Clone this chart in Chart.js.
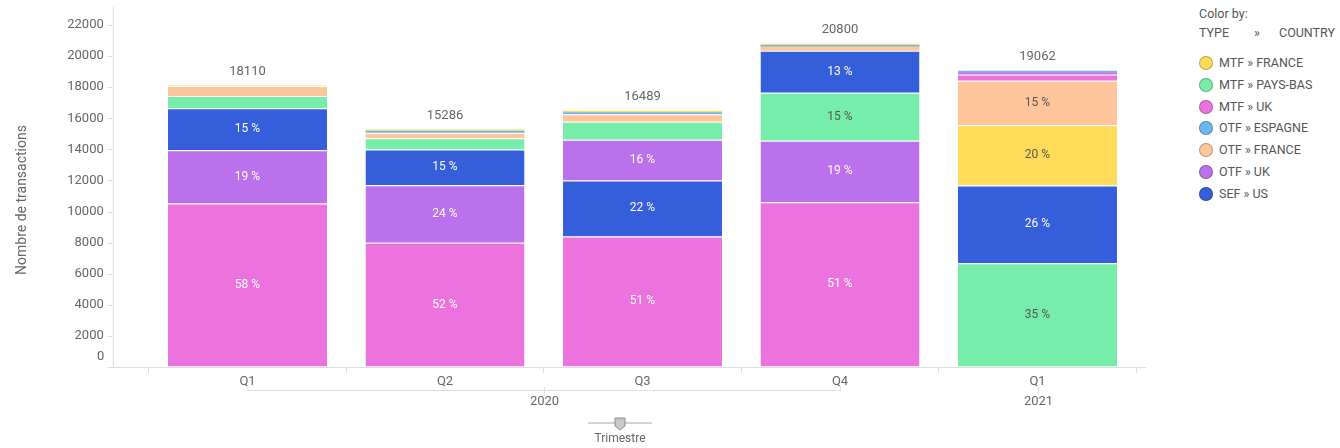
<!DOCTYPE html>
<html>
<head>
<meta charset="utf-8">
<script src="https://cdn.jsdelivr.net/npm/chart.js@4.4.1/dist/chart.umd.min.js"></script>
<style>
  body { margin: 0; background: #fff; font-family: Roboto, sans-serif; }
  #wrap { position: absolute; left: 0; top: 0; width: 1190px; height: 448px; }
  #legend { position: absolute; left: 1199px; top: 0; width: 141px; color: #555; font-size: 12.5px; }
  #legend .head { position: absolute; left: 0; white-space: nowrap; }
  #legend .item { position: absolute; left: 0; height: 16px; line-height: 16px; white-space: nowrap; }
  #legend .dot { position: absolute; left: 0; top: 1px; width: 12px; height: 12px; border-radius: 50%; border: 1px solid rgba(0,0,0,0.25); }
  #legend .txt { position: absolute; left: 20px; top: 0; }
</style>
</head>
<body>
<div id="wrap"><canvas id="chart"></canvas></div>
<div id="legend"></div>
<script>
const quarters = ['Q1', 'Q2', 'Q3', 'Q4', 'Q1']
const years = ['2020', '2020', '2020', '2020', '2021']
const yTicks = [0, 2000, 4000, 6000, 8000, 10000, 12000, 14000, 16000, 18000, 20000, 22000]

const seriesNames = ['MTF » FRANCE', 'MTF » PAYS-BAS', 'MTF » UK', 'OTF » ESPAGNE', 'OTF » FRANCE', 'OTF » UK', 'SEF » US']
const seriesColors = ['#fedc5a', '#76eda8', '#ec73dd', '#6db7ee', '#ffc59b', '#bb70ec', '#355fda']
const labelColors = ['#555', '#555', '#fff', '#fff', '#555', '#fff', '#fff']

const mtfFrance = [25, 86, 99, 90, 3880]
const mtfPaysBas = [790, 710, 1160, 3080, 6680]
const mtfUk = [10520, 8000, 8400, 10600, 410]
const otfEspagne = [0, 130, 130, 110, 92]
const otfFrance = [645, 360, 480, 260, 2850]
const otfUk = [3420, 3700, 2620, 3960, 150]
const sefUs = [2710, 2300, 3600, 2700, 5000]

const series = [mtfFrance, mtfPaysBas, mtfUk, otfEspagne, otfFrance, otfUk, sefUs]
const totals = quarters.map((q, i) => series.reduce((s, arr) => s + arr[i], 0))

// each quarter stacks its series largest first, so build one dataset per rank
const ranked = quarters.map((q, i) =>
    series.map((arr, s) => ({ s: s, v: arr[i] })).sort((a, b) => b.v - a.v))
const datasets = series.map((_, k) => ({
    data: ranked.map(r => r[k].v),
    seriesIdx: ranked.map(r => r[k].s),
    backgroundColor: ranked.map(r => seriesColors[r[k].s]),
    borderColor: '#fff',
    borderWidth: ctx => (ctx.raw > 300 ? { top: 1, left: 0, right: 0, bottom: 0 } : 0),
    borderSkipped: false,
    barPercentage: 0.805,
    categoryPercentage: 1
}))

// legend panel
const legend = document.getElementById('legend')
legend.innerHTML =
    '<div class="head" style="top:6px">Color by:</div>' +
    '<div class="head" style="top:25px">TYPE</div>' +
    '<div class="head" style="top:25px;left:55px">»</div>' +
    '<div class="head" style="top:25px;left:80px">COUNTRY</div>' +
    seriesNames.map((n, i) =>
        '<div class="item" style="top:' + (55 + i * 21.8) + 'px"><span class="dot" style="background:' +
        seriesColors[i] + '"></span><span class="txt">' + n + '</span></div>').join('')

const gridColor = '#dcdee5'
const textColor = '#666'

const decor = {
    id: 'decor',
    beforeDatasetsDraw(chart) {
        const c = chart.ctx
        const a = chart.chartArea
        const y = chart.scales.y
        const axisX = a.left - 35.5
        c.save()
        c.strokeStyle = gridColor
        c.lineWidth = 1
        c.beginPath()
        c.moveTo(axisX, 7)
        c.lineTo(axisX, a.bottom)
        c.moveTo(axisX - 6, a.bottom + 0.5)
        c.lineTo(a.right + 10, a.bottom + 0.5)
        yTicks.forEach(v => {
            if (v === 0) return
            const py = Math.round(y.getPixelForValue(v)) + 0.5
            c.moveTo(axisX - 6, py)
            c.lineTo(axisX - 1, py)
        })
        c.stroke()
        c.restore()
    },
    afterDatasetsDraw(chart) {
        const c = chart.ctx
        const y = chart.scales.y
        c.save()
        c.textAlign = 'center'
        c.textBaseline = 'middle'
        c.font = '12px Roboto'
        chart.data.datasets.forEach((ds, k) => {
            chart.getDatasetMeta(k).data.forEach((bar, i) => {
                const h = Math.abs(bar.base - bar.y)
                if (h < 20) return
                const pct = Math.round(ds.data[i] / totals[i] * 100)
                c.fillStyle = labelColors[ds.seriesIdx[i]]
                c.fillText(pct + ' %', bar.x, (bar.y + bar.base) / 2)
            })
        })
        c.font = '13px Roboto'
        c.fillStyle = textColor
        const meta = chart.getDatasetMeta(0)
        totals.forEach((t, i) => {
            c.fillText(String(t), meta.data[i].x, y.getPixelForValue(t) - 14)
        })
        c.restore()
    },
    afterDraw(chart) {
        const c = chart.ctx
        const a = chart.chartArea
        const x = chart.scales.x
        const axisX = a.left - 35.5
        c.save()
        c.fillStyle = textColor
        c.textBaseline = 'middle'

        // zero label sits a little above the baseline
        c.font = '13px Roboto'
        c.textAlign = 'right'
        c.fillText('0', axisX - 9, a.bottom - 10)

        // axis title
        c.save()
        c.font = '14px Roboto'
        c.translate(22, 200)
        c.rotate(-Math.PI / 2)
        c.textAlign = 'center'
        c.fillText('Nombre de transactions', 0, 0)
        c.restore()

        // year groups under the quarters
        c.strokeStyle = gridColor
        c.lineWidth = 1
        c.textAlign = 'center'
        let start = 0
        for (let i = 1; i <= years.length; i++) {
            if (i < years.length && years[i] === years[start]) continue
            const x0 = x.getPixelForValue(start)
            const x1 = x.getPixelForValue(i - 1)
            const mid = Math.round((x0 + x1) / 2) + 0.5
            c.beginPath()
            if (i - 1 > start) {
                c.moveTo(x0 + 0.5, a.bottom + 19)
                c.lineTo(x0 + 0.5, a.bottom + 23.5)
                c.lineTo(x1 + 0.5, a.bottom + 23.5)
                c.lineTo(x1 + 0.5, a.bottom + 19)
            }
            c.moveTo(mid, a.bottom + 20)
            c.lineTo(mid, a.bottom + 27)
            c.stroke()
            c.fillText(years[start], mid, a.bottom + 35)
            start = i
        }

        // granularity slider
        const sx = 620
        c.strokeStyle = '#d3d3d3'
        c.lineWidth = 2
        c.beginPath()
        c.moveTo(sx - 32, 423)
        c.lineTo(sx + 32, 423)
        c.stroke()
        c.fillStyle = '#c9c9c9'
        c.strokeStyle = '#8e8e8e'
        c.lineWidth = 1
        c.beginPath()
        c.moveTo(sx - 5, 418)
        c.lineTo(sx + 5, 418)
        c.lineTo(sx + 5, 426)
        c.lineTo(sx, 430)
        c.lineTo(sx - 5, 426)
        c.closePath()
        c.fill()
        c.stroke()
        c.fillStyle = textColor
        c.font = '12px Roboto'
        c.fillText('Trimestre', sx, 439)
        c.restore()
    }
}

new Chart(document.getElementById('chart'), {
    type: 'bar',
    data: { labels: quarters, datasets: datasets },
    options: {
        responsive: true,
        maintainAspectRatio: false,
        animation: false,
        layout: { padding: { top: 0, right: 53.75, left: 0, bottom: 0 } },
        plugins: { legend: { display: false }, tooltip: { enabled: false } },
        scales: {
            x: {
                stacked: true,
                afterFit: s => { s.height = 81 },
                border: { display: false },
                grid: { drawOnChartArea: false, drawTicks: true, tickLength: 6, color: gridColor, offset: true },
                ticks: { color: textColor, font: { family: 'Roboto', size: 13 }, padding: 1 }
            },
            y: {
                stacked: true,
                min: 0,
                max: 23110,
                afterFit: s => { s.width = 148.75 },
                afterBuildTicks: s => { s.ticks = yTicks.map(v => ({ value: v })) },
                border: { display: false },
                // invisible tick marks only push the labels out to the left
                grid: { display: true, drawOnChartArea: false, drawTicks: true, tickLength: 45, color: 'rgba(0,0,0,0)' },
                ticks: {
                    color: textColor,
                    font: { family: 'Roboto', size: 13 },
                    padding: 0,
                    callback: v => (v === 0 ? '' : v)
                }
            }
        }
    },
    plugins: [decor]
})
</script>
</body>
</html>
